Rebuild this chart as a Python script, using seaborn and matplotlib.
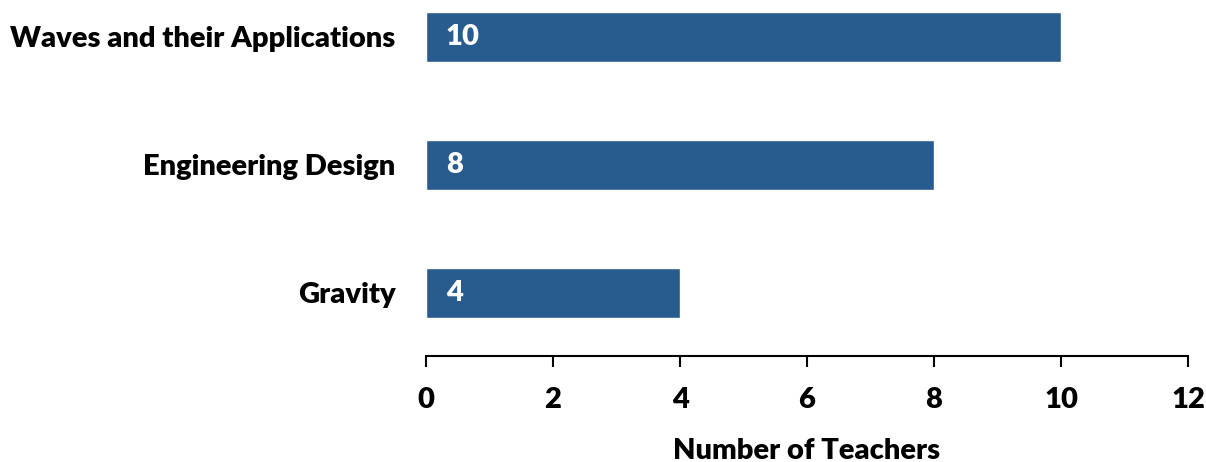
import matplotlib
matplotlib.use("Agg")
import matplotlib.pyplot as plt
import seaborn as sns
import pandas as pd

topics = ["Waves and their Applications", "Engineering Design", "Gravity"]
teachers = [10, 8, 4]
x_ticks = [0, 2, 4, 6, 8, 10, 12]
bar_color = "#285c8e"

sns.set_theme(style="white")
plt.rcParams["font.family"] = ["Lato", "DejaVu Sans"]
plt.rcParams["font.weight"] = "heavy"
plt.rcParams["axes.labelcolor"] = "black"

df = pd.DataFrame({"Topic": topics, "Teachers": teachers})

fig = plt.figure(figsize=(12.06, 4.62), dpi=100)
ax = fig.add_axes([426 / 1206, 1 - 356 / 462, (1188 - 426) / 1206, 356 / 462])

sns.barplot(data=df, y="Topic", x="Teachers", color=bar_color, width=0.39,
            saturation=1, ax=ax, orient="h")

for i, v in enumerate(teachers):
    ax.text(0.31, i, str(v), color="white", fontsize=21, fontweight="heavy",
            va="center", ha="left")

ax.set_xlim(0, 12)
ax.set_ylim(2 + 63 / 128, -37 / 128)
ax.set_xticks(x_ticks)
ax.set_xticklabels([str(t) for t in x_ticks])
ax.set_xlabel("Number of Teachers", fontsize=21, fontweight="heavy",
              color="black", labelpad=18)
ax.set_ylabel("")

for s in ["top", "right", "left"]:
    ax.spines[s].set_visible(False)
ax.spines["bottom"].set_color("black")
ax.spines["bottom"].set_linewidth(1.5)
ax.tick_params(axis="x", direction="out", length=8, width=1.5, color="black",
               labelsize=21, pad=14, bottom=True)
ax.tick_params(axis="y", length=0, labelsize=21, pad=22)
for lbl in ax.get_xticklabels() + ax.get_yticklabels():
    lbl.set_fontweight("heavy")
    lbl.set_color("black")

fig.savefig("out.png", dpi=100)
